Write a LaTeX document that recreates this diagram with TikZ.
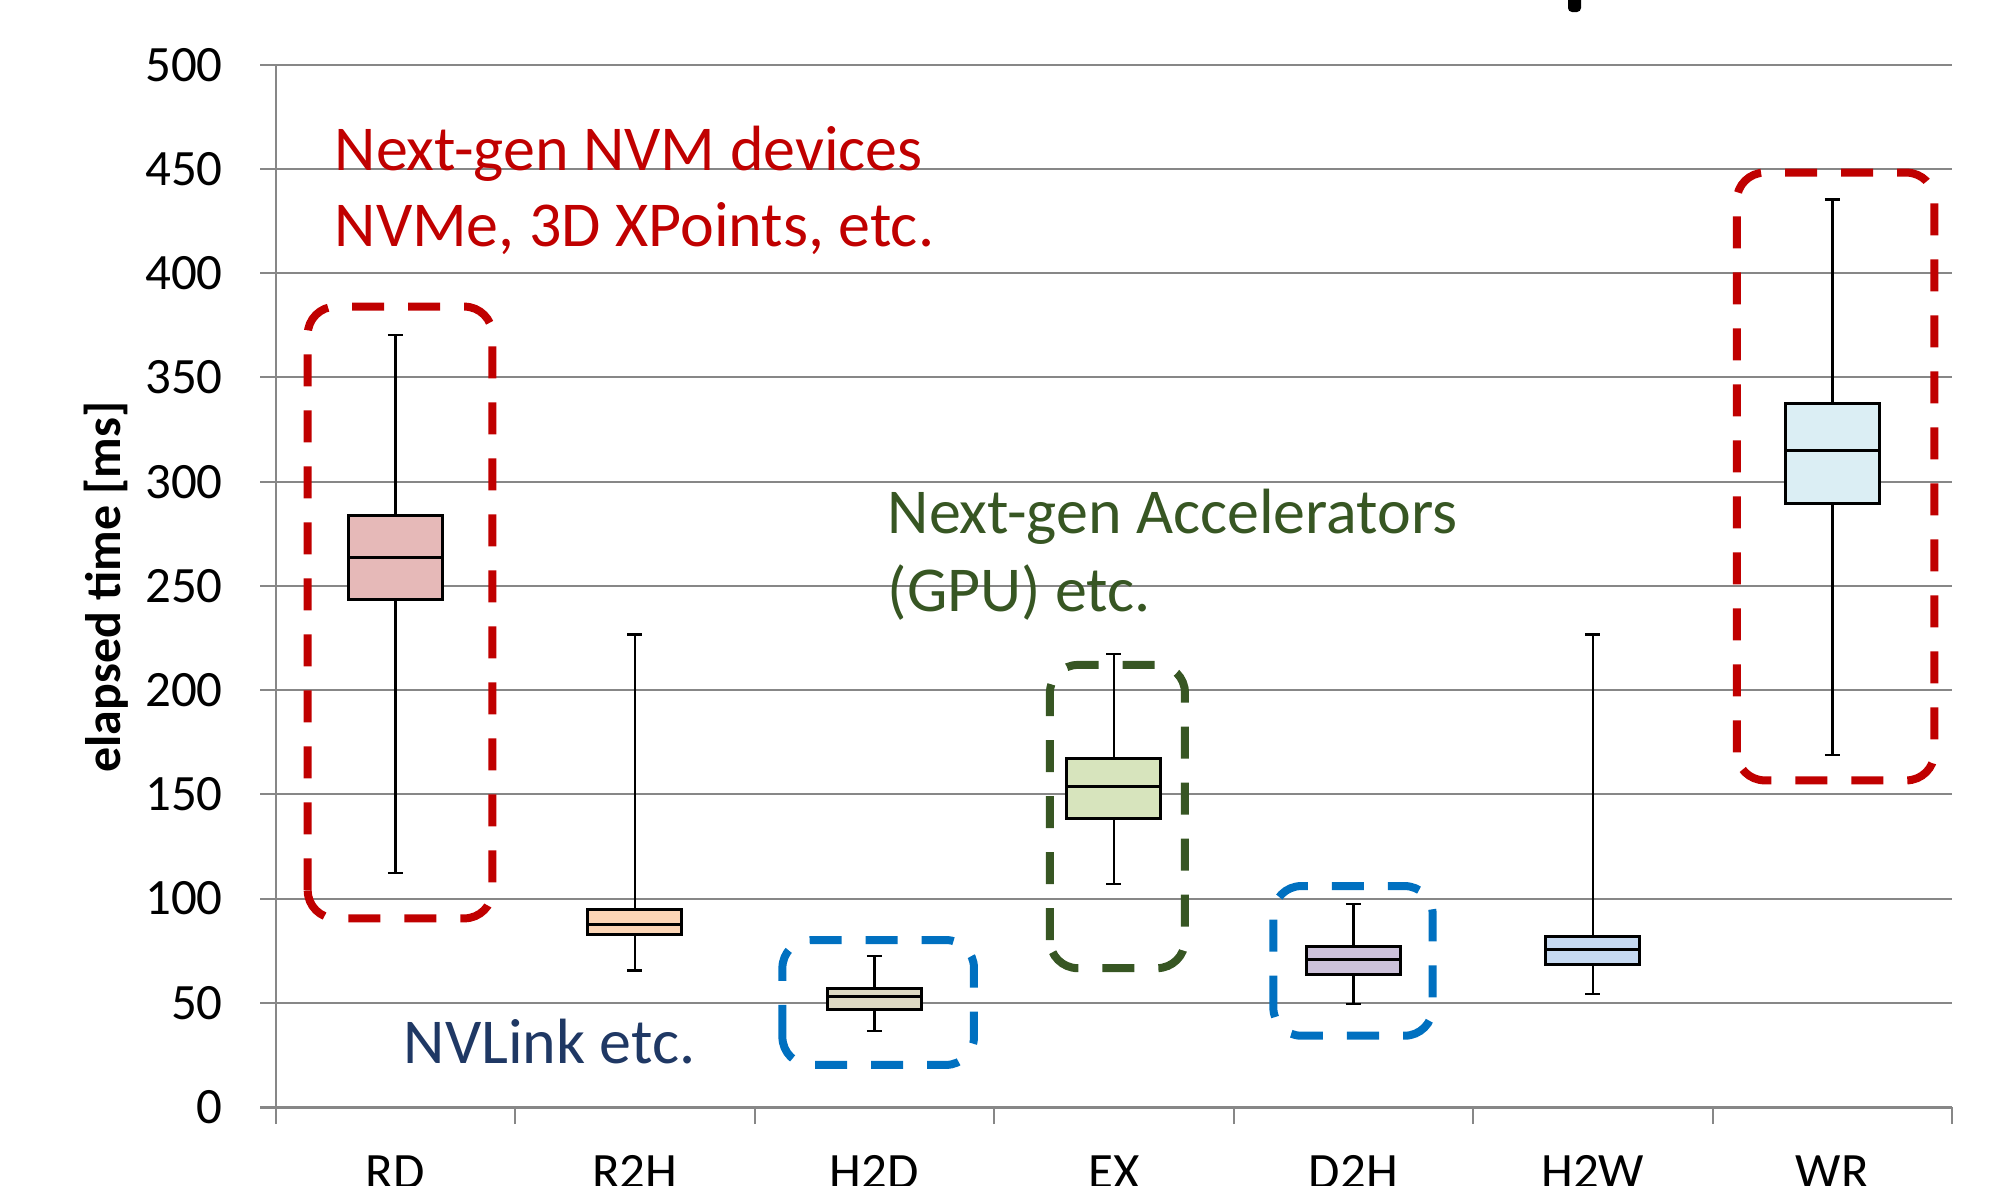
\documentclass[tikz,border=0pt]{standalone}
\usepackage{fontspec}
\setmainfont{Carlito}

\definecolor{nvmred}{HTML}{C00000}
\definecolor{accgreen}{HTML}{375623}
\definecolor{linkblue}{HTML}{0070C0}
\definecolor{linktext}{HTML}{1F3864}
\definecolor{gridgray}{HTML}{878787}
\definecolor{fillRD}{HTML}{E6B9B8}
\definecolor{fillRH}{HTML}{FCD5B5}
\definecolor{fillHD}{HTML}{DDD9C3}
\definecolor{fillEX}{HTML}{D7E4BD}
\definecolor{fillDH}{HTML}{CCC1DA}
\definecolor{fillHW}{HTML}{C6D9F1}
\definecolor{fillWR}{HTML}{DBEEF4}

\tikzset{
  gridline/.style={gridgray, line width=0.02cm},
  axisline/.style={gridgray, line width=0.03cm},
  whisker/.style={black, line width=0.7pt},
  catbox/.style={black, line width=0.85pt},
  groupbox/.style={line width=0.08cm, rounded corners=0.28cm, dash pattern=on 0.32cm off 0.24cm},
  ticklabel/.style={inner sep=0, font=\fontsize{14.5}{17}\selectfont},
  catlabel/.style={inner sep=0, anchor=base, font=\fontsize{14.5}{17}\selectfont},
  axistitle/.style={inner sep=0, font=\fontsize{14.2}{17}\selectfont\bfseries},
  note/.style={inner sep=0, anchor=base west, font=\fontsize{18.2}{22}\selectfont}
}

\begin{document}
\begin{tikzpicture}[line cap=butt]
\useasboundingbox (0,0) rectangle (19.91,11.85);

% piece of the title, cut off at the top
\fill[black, rounded corners=0.04cm] (15.68,11.73) rectangle (15.81,12.0);

\begin{scope}[shift={(2.756,0.78)}, x=2.395cm, y=0.02084cm]
% grid and axes
\foreach \v in {50,100,...,500}
  \draw[gridline] (-0.065,\v) -- (7,\v);
\draw[axisline] (-0.065,0) -- (7,0);
\draw[gridline] (0,-8.2) -- (0,500);
\foreach \t in {1,...,7}
  \draw[gridline] (\t,-8.2) -- (\t,0);
\foreach \v in {0,50,...,500}
  \node[ticklabel, anchor=east] (y\v) at (-0.2175,\v) {\v};

% dashed groups
\draw[groupbox, nvmred] (0.134,90.5) rectangle (0.905,384);
\draw[groupbox, linkblue] (2.116,20.2) rectangle (2.916,80.1);
\draw[groupbox, accgreen] (3.233,66.6) rectangle (3.797,212.1);
\draw[groupbox, linkblue] (4.166,34.2) rectangle (4.831,106);
\draw[groupbox, nvmred] (6.101,156.7) rectangle (6.926,448.3);

% box plots
\foreach \cat/\lo/\qa/\med/\qb/\hi/\col [count=\i] in {
    RD/112.4/243.5/263.8/283.8/370.5/fillRD,
    R2H/65.6/82.6/87.5/94.8/226.6/fillRH,
    H2D/36.5/47/52.9/56.8/72.5/fillHD,
    EX/107/138.2/154/167/217.4/fillEX,
    D2H/49.4/63.7/70.9/76.9/97.5/fillDH,
    H2W/54.2/68.6/75.5/81.7/226.6/fillHW,
    WR/169/289.6/314.9/337.6/435.4/fillWR}
{
  \pgfmathsetmacro\c{\i-0.5}
  \draw[whisker] (\c,\lo) -- (\c,\qa) (\c,\qb) -- (\c,\hi);
  \draw[whisker] (\c-0.031,\lo) -- (\c+0.031,\lo) (\c-0.031,\hi) -- (\c+0.031,\hi);
  \draw[catbox, fill=\col] (\c-0.196,\qa) rectangle (\c+0.196,\qb);
  \draw[catbox] (\c-0.196,\med) -- (\c+0.196,\med);
  \node[catlabel] (cat\i) at (\c,-38.9) {\cat};
}
\end{scope}

\node[axistitle, rotate=90, anchor=base] (ytitle) at (1.20,5.98) {elapsed time [ms]};

\node[note, nvmred] (nvm1) at (3.34,10.15) {Next-gen NVM devices};
\node[note, nvmred] (nvm2) at (3.34,9.39) {NVMe, 3D XPoints, etc.};
\node[note, accgreen] (acc1) at (8.87,6.517) {Next-gen Accelerators};
\node[note, accgreen] (acc2) at (8.87,5.733) {(GPU) etc.};
\node[note, linktext] (link) at (4.03,1.217) {NVLink etc.};

\end{tikzpicture}
\end{document}
